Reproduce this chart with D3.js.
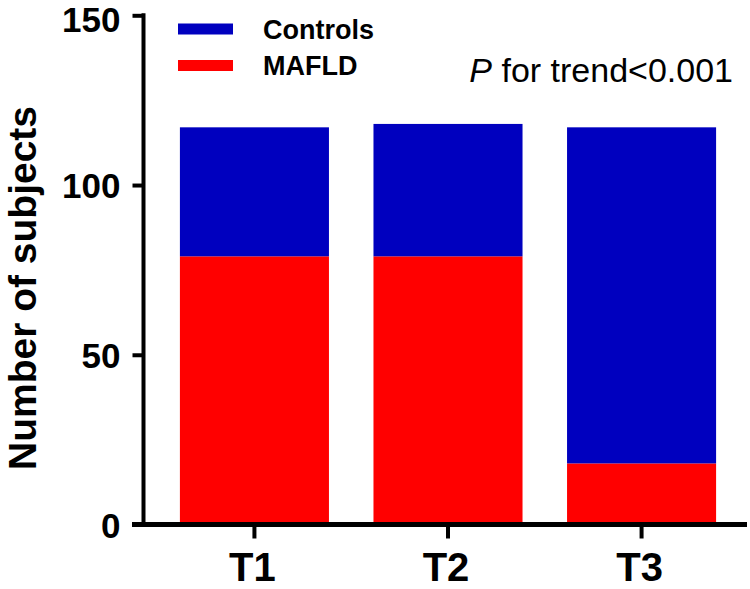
<!DOCTYPE html>
<html><head><meta charset="utf-8">
<script src="https://cdn.jsdelivr.net/npm/d3@7"></script>
<style>html,body{margin:0;padding:0;background:#fff;}svg{display:block;font-family:Arial,"Liberation Sans",Helvetica,sans-serif;}</style>
</head><body>
<script>
const categories = ["T1", "T2", "T3"];
const mafld = [79, 79, 18];
const controls = [38, 39, 99];
const seriesNames = ["Controls", "MAFLD"];
const yTicks = [0, 50, 100, 150];

const W = 750, H = 589;
const svg = d3.select("body").append("svg").attr("width", W).attr("height", H);

const x = d3.scaleBand().domain(categories).range([147, 749]).paddingInner(0.23).paddingOuter(0.17);
const y = d3.scaleLinear().domain([0, 150]).range([524.5, 15.3]);

const colors = {MAFLD: "#FF0000", Controls: "#0000BF"};

const data = categories.map((c, i) => ({cat: c, MAFLD: mafld[i], Controls: controls[i]}));
const stack = d3.stack().keys(["MAFLD", "Controls"]);
const layers = stack(data);

svg.append("g").selectAll("g").data(layers).join("g")
  .attr("fill", d => colors[d.key])
  .selectAll("rect").data(d => d).join("rect")
  .attr("x", d => x(d.data.cat))
  .attr("width", x.bandwidth())
  .attr("y", d => y(d[1]))
  .attr("height", d => y(d[0]) - y(d[1]));

// Y axis
const yAxis = svg.append("g").attr("transform", "translate(143.5,0)")
  .call(d3.axisLeft(y).tickValues(yTicks).tickSize(11).tickPadding(12).tickFormat(d3.format("d")));
yAxis.select(".domain").attr("stroke", "#000").attr("stroke-width", 4).attr("d", `M0,${y(0)}V${y(150)-2}`);
yAxis.selectAll(".tick line").attr("stroke", "#000").attr("stroke-width", 4);
yAxis.selectAll(".tick text").attr("fill", "#000").attr("font-size", 35).attr("font-weight", "bold")
  .attr("font-family", "Arial, 'Liberation Sans', sans-serif")
  .attr("dy", d => d === 150 ? "0.47em" : "0.36em");

// X axis
const xAxis = svg.append("g").attr("transform", `translate(0,${y(0)})`)
  .call(d3.axisBottom(x).tickSize(14).tickPadding(13.6));
xAxis.select(".domain").attr("stroke", "#000").attr("stroke-width", 5).attr("d", "M132,0H747");
xAxis.selectAll(".tick line").attr("stroke", "#000").attr("stroke-width", 4);
xAxis.selectAll(".tick text").attr("fill", "#000").attr("font-size", 40).attr("font-weight", "bold")
  .attr("font-family", "Arial, 'Liberation Sans', sans-serif").attr("dy", "0.71em").attr("dx", -2);

// Y title
svg.append("text").attr("transform", "translate(36,288) rotate(-90)")
  .attr("text-anchor", "middle").attr("font-size", 39).attr("font-weight", "bold")
  .text("Number of subjects");

// Legend
const legendY = [29, 65.5];
const leg = svg.append("g");
seriesNames.forEach((s, i) => {
  leg.append("rect").attr("x", 178).attr("y", legendY[i] - 5.5).attr("width", 55).attr("height", 11).attr("fill", colors[s]);
  leg.append("text").attr("x", 263).attr("y", legendY[i]).attr("dy", "0.36em")
    .attr("font-size", 27).attr("font-weight", "bold").text(s);
});

// P for trend
const pt = svg.append("text").attr("x", 733).attr("y", 82).attr("text-anchor", "end").attr("font-size", 34);
pt.append("tspan").attr("font-style", "italic").text("P");
pt.append("tspan").text(" for trend<0.001");
</script>
</body></html>
